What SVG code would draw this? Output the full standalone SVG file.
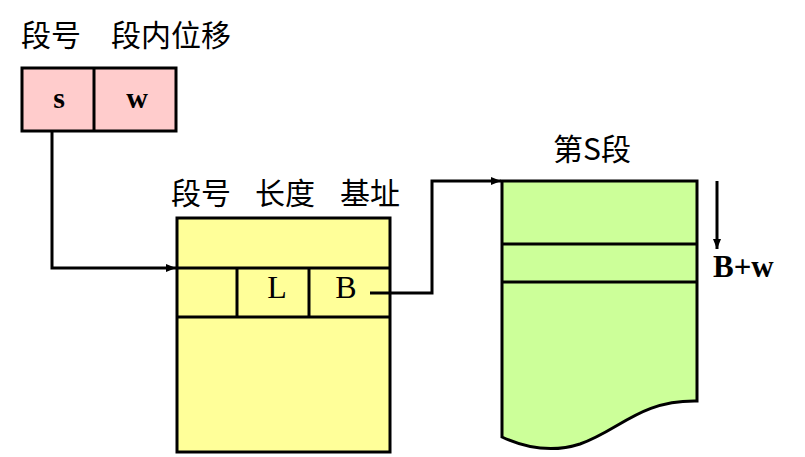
<svg xmlns="http://www.w3.org/2000/svg" width="805" height="457" viewBox="0 0 805 457">
<style>
.cjk{font-family:"Noto Sans CJK SC",serif;font-size:30px;fill:#000}
.lat{font-family:"Liberation Serif",serif;fill:#000}
.box{stroke:#000;stroke-width:3}
.ln{stroke:#000;stroke-width:3;fill:none}
</style>
<defs>
<marker id="ah" markerWidth="10" markerHeight="8" refX="10" refY="4" orient="auto" markerUnits="userSpaceOnUse">
<path d="M0,0 L10,4 L0,8 z" fill="#000"/>
</marker>
</defs>
<rect width="805" height="457" fill="#fff"/>
<g id="address">
<text class="cjk" x="21" y="46">段号</text>
<text class="cjk" x="111" y="46" font-size="32">段内位移</text>
<rect class="box" x="22" y="68" width="154" height="63" fill="#ffcccc"/>
<line class="ln" x1="94" y1="68" x2="94" y2="131"/>
<text class="lat" x="59" y="108" font-size="30" font-weight="bold" text-anchor="middle">s</text>
<text class="lat" x="137" y="108" font-size="30" font-weight="bold" text-anchor="middle">w</text>
</g>
<g id="segtable">
<text class="cjk" x="171" y="204">段号</text>
<text class="cjk" x="255" y="204">长度</text>
<text class="cjk" x="340" y="204">基址</text>
<rect class="box" x="177" y="218" width="213" height="234" fill="#ffff99"/>
<line class="ln" x1="177" y1="268" x2="390" y2="268"/>
<line class="ln" x1="177" y1="317" x2="390" y2="317"/>
<line class="ln" x1="237" y1="268" x2="237" y2="317"/>
<line class="ln" x1="309" y1="268" x2="309" y2="317"/>
<text class="lat" x="277" y="298" font-size="32" text-anchor="middle">L</text>
<text class="lat" x="346" y="298" font-size="32" text-anchor="middle">B</text>
</g>
<g id="segment">
<text class="cjk" x="592" y="160" text-anchor="middle">第S段</text>
<path class="box" d="M502,181 L697,181 L697,401 C640,400 620,430 580,444 C555,452 530,450 502,437 Z" fill="#ccff99"/>
<line class="ln" x1="502" y1="244" x2="697" y2="244"/>
<line class="ln" x1="502" y1="282" x2="697" y2="282"/>
<text class="lat" x="713" y="277" font-size="31" font-weight="bold">B+w</text>
</g>
<g id="connectors">
<polyline class="ln" points="52,131 52,268 176,268" marker-end="url(#ah)"/>
<polyline class="ln" points="370,293 432,293 432,181 501,181" marker-end="url(#ah)"/>
<line class="ln" x1="717" y1="181" x2="717" y2="249" marker-end="url(#ah)"/>
</g>
</svg>
